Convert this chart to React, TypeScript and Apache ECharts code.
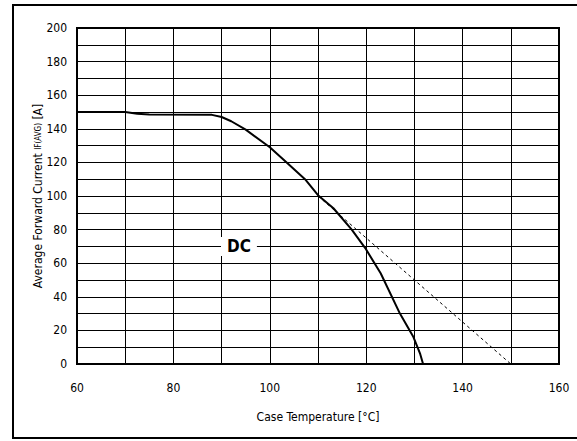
import React, { useEffect, useRef } from "react";
import * as echarts from "echarts";

const dcCurve: [number, number][] = [
  [60, 150], [70, 150], [72.5, 149], [75, 148.5], [88, 148.3], [90, 147],
  [92, 144.5], [95, 139.5], [100, 129], [103.5, 120], [107.3, 110], [110, 100.5],
  [113.2, 92.7], [117, 80], [119.8, 69], [123, 54], [127, 30], [129.8, 16],
  [131.2, 6], [131.8, 0],
];
const deratingLine: [number, number][] = [[110, 100], [150, 0]];
const dcLabelPoint: [number, number] = [93.6, 70];

const xName = "Case Temperature [°C]";
const yNameMain = "Average Forward Current ";
const yNameSub = "IF(AVG)";
const yNameUnit = " [A]";

const FONT = "'Liberation Sans Narrow', 'DejaVu Sans Condensed', 'Arial Narrow', sans-serif";

export default function App() {
  const ref = useRef<HTMLDivElement>(null);
  useEffect(() => {
    if (!ref.current) return;
    const chart = echarts.init(ref.current, null, { renderer: "svg" });
    chart.setOption({
      animation: false,
      backgroundColor: "#fff",
      textStyle: { fontFamily: FONT },
      grid: {
        left: 77, top: 28, right: 18, bottom: 77,
        show: true, borderColor: "#000", borderWidth: 2, backgroundColor: "transparent",
      },
      graphic: [
        {
          type: "rect",
          shape: { x: 13, y: 5, width: 620, height: 433 },
          style: { fill: "none", stroke: "#000", lineWidth: 2 },
          silent: true,
          z: 100,
        },
      ],
      xAxis: {
        type: "value", min: 60, max: 160, interval: 20,
        name: xName, nameLocation: "middle", nameGap: 47, nameMoveOverlap: false,
        nameTextStyle: { fontSize: 12, color: "#000", fontFamily: FONT },
        axisLine: { show: false },
        axisTick: { show: false },
        axisLabel: { color: "#000", fontSize: 12, margin: 18, fontFamily: FONT },
        splitLine: { show: true, lineStyle: { color: "#000", width: 1 } },
        minorTick: { show: false, splitNumber: 2 },
        minorSplitLine: { show: true, lineStyle: { color: "#000", width: 1 } },
      },
      yAxis: {
        type: "value", min: 0, max: 200, interval: 20,
        name: "{m|" + yNameMain + "}{s|" + yNameSub + "}{m|" + yNameUnit + "}",
        nameLocation: "middle", nameGap: 33, nameRotate: 90, nameMoveOverlap: false,
        nameTextStyle: {
          color: "#000", fontFamily: FONT,
          rich: {
            m: { fontSize: 12, color: "#000", fontFamily: FONT },
            s: { fontSize: 8, color: "#000", fontFamily: FONT },
          },
        },
        axisLine: { show: false },
        axisTick: { show: false },
        axisLabel: { color: "#000", fontSize: 12, margin: 10, fontFamily: FONT },
        splitLine: { show: true, lineStyle: { color: "#000", width: 1 } },
        minorTick: { show: false, splitNumber: 2 },
        minorSplitLine: { show: true, lineStyle: { color: "#000", width: 1 } },
      },
      series: [
        {
          type: "line",
          data: deratingLine,
          symbol: "none",
          lineStyle: { color: "#000", width: 1, type: [3, 3] },
          z: 3,
        },
        {
          type: "line",
          data: dcCurve,
          symbol: "none",
          lineStyle: { color: "#000", width: 2 },
          z: 4,
          markPoint: {
            symbol: "rect",
            symbolSize: [1, 1],
            itemStyle: { color: "transparent" },
            data: [
              {
                coord: dcLabelPoint,
                label: {
                  show: true,
                  formatter: "DC",
                  color: "#000",
                  fontSize: 17,
                  fontWeight: "bold",
                  fontFamily: FONT,
                  backgroundColor: "#fff",
                  padding: [2, 6, 0, 6],
                  position: "inside",
                },
              },
            ],
          },
        },
      ],
    });
    return () => chart.dispose();
  }, []);
  return (
    <div
      ref={ref}
      style={{ position: "fixed", left: 0, top: 0, width: 577, height: 441 }}
    />
  );
}
